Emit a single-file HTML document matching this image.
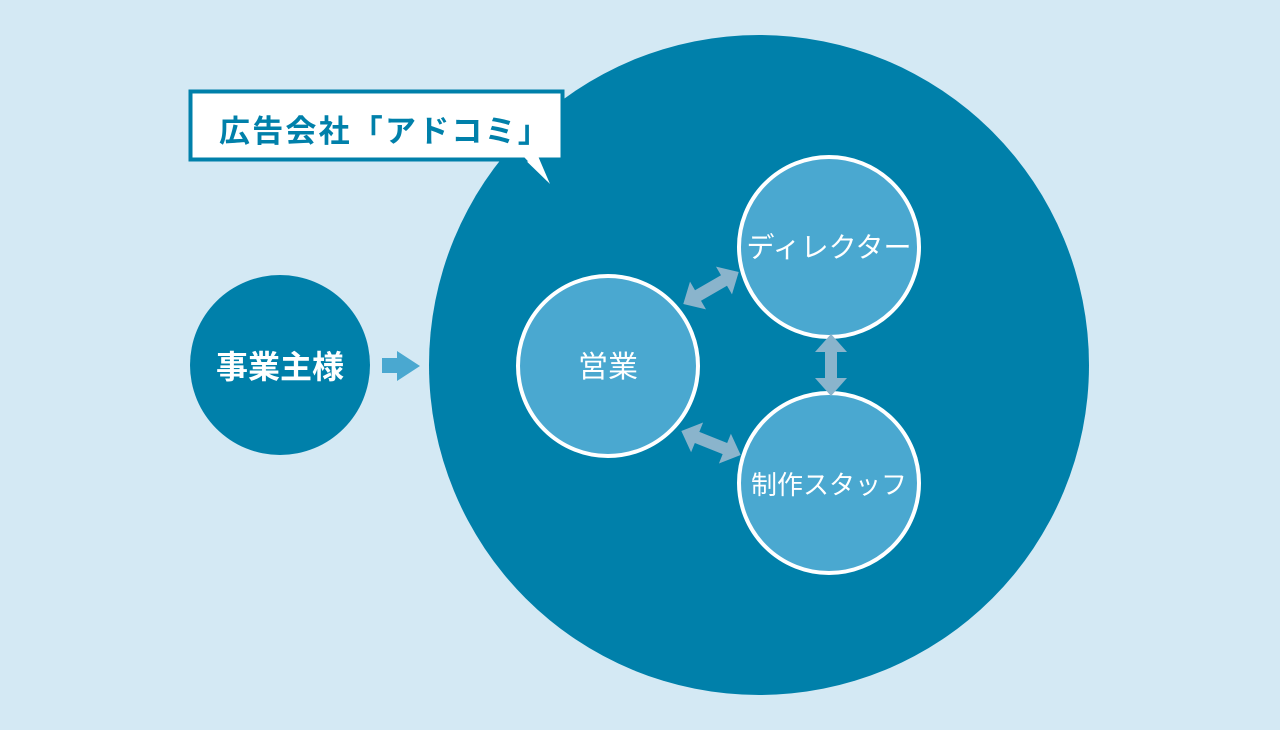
<!DOCTYPE html>
<html><head><meta charset="utf-8"><style>
html,body{margin:0;padding:0;background:#d4e9f4;}
svg{display:block;}
text{font-family:"Liberation Sans","Noto Sans CJK JP",sans-serif;}
</style></head><body>
<svg width="1280" height="730" viewBox="0 0 1280 730" xmlns="http://www.w3.org/2000/svg">
<rect width="1280" height="730" fill="#d4e9f4"/>
<circle cx="759" cy="365" r="330" fill="#0080aa"/>
<circle cx="280" cy="365" r="90" fill="#0080aa"/>
<text x="280" y="378" font-size="32" font-weight="bold" fill="#fff" text-anchor="middle">事業主様</text>
<polygon points="382,358 397,358 397,351 420,366 397,381 397,373 382,373" fill="#4aa8d0"/>
<circle cx="608" cy="366" r="90" fill="#4aa8d0" stroke="#fff" stroke-width="4"/>
<circle cx="829" cy="247" r="90" fill="#4aa8d0" stroke="#fff" stroke-width="4"/>
<circle cx="829" cy="483" r="90" fill="#4aa8d0" stroke="#fff" stroke-width="4"/>
<text x="608" y="377" font-size="30" fill="#fff" text-anchor="middle">営業</text>
<text x="829" y="257" font-size="28" fill="#fff" text-anchor="middle">ディレクター</text>
<text x="829" y="494" font-size="26" fill="#fff" text-anchor="middle">制作スタッフ</text>
<g fill="#8ab4cc">
<polygon points="0,-31 16,-13 6,-13 6,13 16,13 0,31 -16,13 -6,13 -6,-13 -16,-13" transform="translate(831,365)"/>
<polygon points="0,-32 16,-15 6,-15 6,15 16,15 0,32 -16,15 -6,15 -6,-15 -16,-15" transform="translate(711,288) rotate(60)"/>
<polygon points="0,-32 16,-15 6,-15 6,15 16,15 0,32 -16,15 -6,15 -6,-15 -16,-15" transform="translate(711,443) rotate(-68)"/>
</g>
<polygon points="521,158 552,188 539,158" fill="#fff" stroke="#0080aa" stroke-width="3"/>
<rect x="190.5" y="91.5" width="372" height="68" fill="#fff" stroke="#0080aa" stroke-width="4"/>
<polygon points="523,156 550,184 538,156" fill="#fff"/>
<text x="219" y="142" font-size="31" font-weight="bold" fill="#0080aa" letter-spacing="2.2">広告会社「アドコミ」</text>
</svg>
</body></html>
